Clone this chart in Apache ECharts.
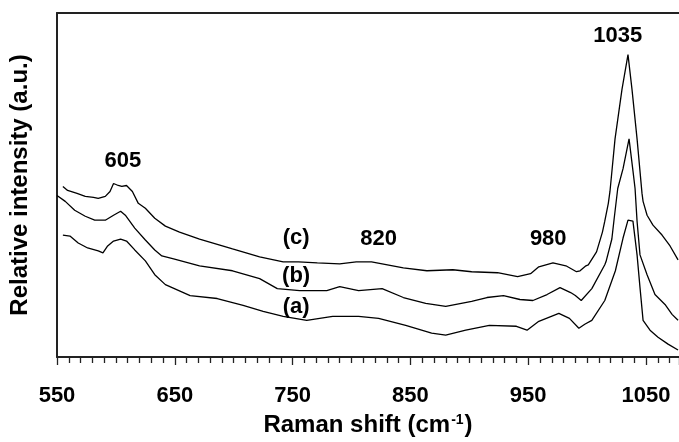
<!DOCTYPE html>
<html>
<head>
<meta charset="utf-8">
<script src="https://cdn.jsdelivr.net/npm/echarts@6/dist/echarts.min.js"></script>
<style>
  html, body { margin: 0; padding: 0; background: #fff; }
  #chart { width: 679px; height: 442px; }
</style>
</head>
<body>
<div id="chart"></div>
<script>
// Raman spectra of three samples, offset vertically (arbitrary units)
const shiftA = [555, 561, 568, 576, 585, 589, 593, 598, 604, 609, 616, 625, 633, 642, 663, 686, 708, 725, 742, 762, 784, 806, 823, 846, 868, 880, 897, 917, 940, 949, 959, 976, 985, 993, 998, 1004, 1015, 1024, 1030.5, 1034.7, 1038.9, 1042.4, 1044.9, 1047.5, 1053.4, 1060.2, 1068.7, 1077.2];
const intensityA = [123, 122, 115, 110, 107, 105, 112, 117, 119, 117, 108, 97, 83, 73, 62, 59, 52, 46, 41, 37, 41, 41, 39, 32, 24, 22, 27, 32, 31, 27, 36, 44, 39, 29, 33, 37, 57, 87, 120, 138, 137, 103, 70, 37, 27, 20, 13, 7];

const shiftB = [550, 557, 565, 574, 582, 591, 598, 604, 608, 616, 625, 633, 639, 649, 671, 699, 722, 737, 756, 779, 790, 806, 826, 844, 863, 880, 902, 915, 929, 943, 954, 966, 977, 986, 990, 995, 1004, 1015, 1016, 1021, 1023, 1026, 1030.5, 1035.6, 1039, 1040.7, 1042.4, 1044.9, 1050.9, 1057.6, 1066.1, 1072.1, 1077.2];
const intensityB = [163, 157, 148, 142, 138, 138, 143, 147, 143, 130, 118, 108, 102, 99, 92, 87, 79, 69, 67, 67, 71, 67, 69, 60, 54, 51, 56, 60, 62, 58, 57, 63, 70, 65, 62, 57, 69, 93, 96, 119, 140, 170, 190, 220, 187, 170, 137, 103, 83, 63, 53, 43, 37];

const shiftC = [555, 559, 567, 574, 581, 585, 591, 595, 598, 602, 605, 609, 614, 619, 625, 633, 642, 654, 671, 699, 722, 742, 755, 771, 790, 804, 817, 844, 864, 886, 902, 924, 941, 952, 959, 971, 982, 991, 994, 999, 1001, 1008, 1013, 1015, 1018, 1019.4, 1023.7, 1029.6, 1034.7, 1038.1, 1042.4, 1046.6, 1047.5, 1050.9, 1055.9, 1063.6, 1070.4, 1077.2];
const intensityC = [172, 168, 165, 162, 161, 160, 162, 167, 175, 173, 172, 173, 167, 155, 150, 140, 132, 126, 119, 109, 101, 96, 96, 95, 94, 96, 96, 90, 87, 88, 86, 85, 81, 84, 91, 95, 92, 86, 87, 92, 93, 106, 126, 137, 155, 167, 220, 270, 305, 270, 220, 165, 157, 143, 133, 123, 112, 98];

// Peak assignments and curve tags, placed in data coordinates
const noteText  = ['605', '1035', '820', '980', '(c)', '(b)', '(a)'];
const noteShift = [606, 1026, 823, 967, 753, 753, 753];
const noteLevel = [198, 324, 119, 119, 120, 82, 51];

const tickMin = 550, tickStep = 100, shiftMax = 1078;
const levelMax = 347;

const zip = (xs, ys) => xs.map((x, i) => [x, ys[i]]);

const FONT = '"Liberation Sans", Arial, sans-serif';
const INK = '#000';

const lineSeries = (name, xs, ys) => ({
  name,
  type: 'line',
  data: zip(xs, ys),
  showSymbol: false,
  symbol: 'none',
  animation: false,
  lineStyle: { color: INK, width: 1.3 },
  z: 3
});

const chart = echarts.init(document.getElementById('chart'), null, { renderer: 'canvas' });

chart.setOption({
  backgroundColor: '#fff',
  animation: false,
  grid: { left: 57, right: 0, top: 13, bottom: 82, containLabel: false },
  xAxis: [
    {
      type: 'value',
      min: tickMin,
      max: shiftMax,
      interval: tickStep,
      position: 'bottom',
      name: 'Raman shift (cm{sup|-1})',
      nameLocation: 'middle',
      nameGap: 56,
      nameTextStyle: {
        fontFamily: FONT, fontSize: 24, fontWeight: 'bold', color: INK,
        rich: {
          sup: { fontFamily: FONT, fontSize: 14, fontWeight: 'bold', color: INK, verticalAlign: 'top', padding: [0, 1, 10, 1] }
        }
      },
      axisLine: { show: true, onZero: false, lineStyle: { color: '#222', width: 2 } },
      axisTick: { show: true, inside: false, length: 8, lineStyle: { color: '#222', width: 1.3 } },
      minorTick: { show: true, splitNumber: 10, length: 6, lineStyle: { color: '#222', width: 1.3 } },
      axisLabel: {
        show: true, margin: 28, showMaxLabel: false,
        formatter: v => String(v),
        fontFamily: FONT, fontSize: 22, fontWeight: 'bold', color: INK
      },
      splitLine: { show: false },
      minorSplitLine: { show: false }
    },
    {
      type: 'value',
      min: tickMin,
      max: shiftMax,
      position: 'top',
      axisLine: { show: true, onZero: false, lineStyle: { color: '#222', width: 2 } },
      axisTick: { show: false },
      axisLabel: { show: false },
      splitLine: { show: false }
    }
  ],
  yAxis: {
    type: 'value',
    min: 0,
    max: levelMax,
    name: 'Relative intensity (a.u.)',
    nameLocation: 'middle',
    nameGap: 25,
    nameRotate: 90,
    nameTextStyle: { fontFamily: FONT, fontSize: 24, fontWeight: 'bold', color: INK },
    axisLine: { show: true, onZero: false, lineStyle: { color: '#222', width: 2 } },
    axisTick: { show: false },
    axisLabel: { show: false },
    splitLine: { show: false }
  },
  series: [
    lineSeries('(a)', shiftA, intensityA),
    lineSeries('(b)', shiftB, intensityB),
    lineSeries('(c)', shiftC, intensityC),
    {
      name: 'notes',
      type: 'scatter',
      symbolSize: 0,
      silent: true,
      animation: false,
      itemStyle: { color: INK, opacity: 1 },
      data: noteText.map((t, i) => ({ value: [noteShift[i], noteLevel[i]], name: t })),
      label: {
        show: true,
        position: [0, 0],
        align: 'center',
        verticalAlign: 'middle',
        formatter: p => p.name,
        fontFamily: FONT,
        fontSize: 22,
        fontWeight: 'bold',
        color: INK,
        opacity: 1,
        textBorderWidth: 0
      },
      z: 5
    }
  ]
});
</script>
</body>
</html>
